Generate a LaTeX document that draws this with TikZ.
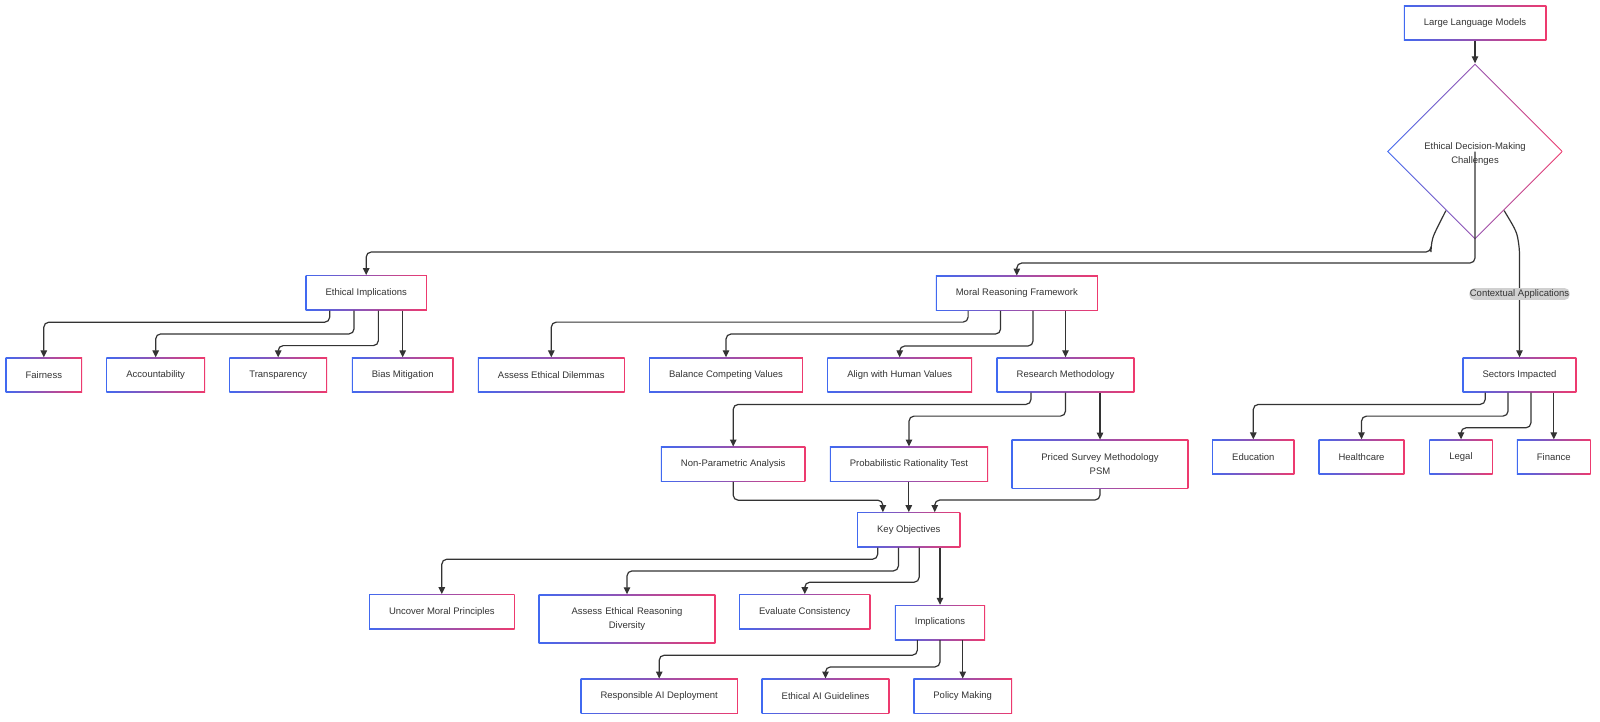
\documentclass[tikz,border=0pt]{standalone}
\usepackage{fontspec}
\setmainfont{Liberation Sans}
\usetikzlibrary{arrows.meta,shapes.geometric,calc}
\definecolor{Blue}{HTML}{4169F0}
\definecolor{Pink}{HTML}{EE3A6E}
\definecolor{Ink}{HTML}{333333}
\definecolor{Tag}{HTML}{D0D0D0}

\begin{document}
\begin{tikzpicture}[
    x=1pt, y=-1pt,
    box/.style={rectangle, inner xsep=20pt, inner ysep=0pt, minimum height=35pt,
      align=center, font=\fontsize{9.5}{14}\selectfont, text=Ink,
      path picture={\shade[left color=Blue,right color=Pink]
          (path picture bounding box.south west) rectangle (path picture bounding box.north east);
        \fill[white] ([shift={(1.1pt,1.1pt)}]path picture bounding box.south west)
          rectangle ([shift={(-1.1pt,-1.1pt)}]path picture bounding box.north east);}},
    wide/.style={box, text width=136.6pt, minimum height=49pt},
    dia/.style={diamond, aspect=1, minimum width=176pt, minimum height=176pt, inner sep=0pt,
      path picture={\shade[left color=Blue,right color=Pink]
          (path picture bounding box.south west) rectangle (path picture bounding box.north east);
        \fill[white] ([yshift=-1.6pt]path picture bounding box.north)
          -- ([xshift=-1.6pt]path picture bounding box.east)
          -- ([yshift=1.6pt]path picture bounding box.south)
          -- ([xshift=1.6pt]path picture bounding box.west) -- cycle;}},
    tag/.style={fill=Tag, inner xsep=0.5pt, inner ysep=1.5pt, text=Ink,
      font=\fontsize{9.5}{11}\selectfont},
    arr/.style={-{Triangle[length=7pt,width=6.5pt]}, Ink, line width=1.2pt, rounded corners=5pt}
  ]
    \fill[white] (0,0) rectangle (1600,721);
    \useasboundingbox (0,0) rectangle (1600,721);

    % top
    \node[box] (llm) at (1475,23) {Large Language Models};
    \node[dia] (ethic) at (1475,151.5) {};
    \node[align=center, text=Ink, font=\fontsize{9.5}{14}\selectfont] (ethictxt) at (1475,154)
      {Ethical Decision-Making\\Challenges};

    % second level
    \node[box] (ethimp) at (366.2,292.8) {Ethical Implications};
    \node[box] (moral) at (1016.8,293.2) {Moral Reasoning Framework};

    % third level
    \node[box] (fair) at (43.8,375) {Fairness};
    \node[box] (acc) at (155.7,375) {Accountability};
    \node[box] (transp) at (278.2,375) {Transparency};
    \node[box] (bias) at (402.7,375) {Bias Mitigation};
    \node[box] (dilem) at (551.3,375) {Assess Ethical Dilemmas};
    \node[box] (balance) at (726,375) {Balance Competing Values};
    \node[box] (align) at (899.7,375) {Align with Human Values};
    \node[box] (research) at (1065.5,375) {Research Methodology};
    \node[box] (sectors) at (1519.5,375) {Sectors Impacted};

    % methods and sectors
    \node[box] (nonpar) at (733.2,464.2) {Non-Parametric Analysis};
    \node[box] (prob) at (909,464.2) {Probabilistic Rationality Test};
    \node[wide] (psm) at (1100,464.3) {Priced Survey Methodology\\PSM};
    \node[box] (educ) at (1253.3,457) {Education};
    \node[box] (health) at (1361.5,457) {Healthcare};
    \node[box] (legal) at (1461,457) {Legal};
    \node[box] (finance) at (1553.8,457) {Finance};

    % objectives
    \node[box] (keyobj) at (908.8,529.8) {Key Objectives};
    \node[box] (uncover) at (441.8,611.8) {Uncover Moral Principles};
    \node[wide] (divers) at (627,619) {Assess Ethical Reasoning\\Diversity};
    \node[box] (evalc) at (804.8,611.8) {Evaluate Consistency};
    \node[box] (impl) at (940,622.5) {Implications};
    \node[box] (resp) at (659.2,696.2) {Responsible AI Deployment};
    \node[box] (guide) at (825.5,696.2) {Ethical AI Guidelines};
    \node[box] (policy) at (962.7,696.2) {Policy Making};

    % connectors
    \draw[arr] (llm.south) -- (ethic.north);
    \draw[arr] ($(ethic.south)!.33!(ethic.west)$) .. controls (1433,236) .. (1431,247)
      -- (1431,252) -| (ethimp.north);
    \draw[arr] (ethic.center) -- ++(0,111.5) -| (moral.north);
    \draw[arr] ($(ethic.south)!.33!(ethic.east)$) .. controls (1517,232) .. (1519.5,250)
      -- node[tag,pos=.41] (ctx) {Contextual Applications} (sectors.north);

    \draw[arr] ($(ethimp.south west)!.2!(ethimp.south east)$) -- ++(0,11.7) -| (fair.north);
    \draw[arr] ($(ethimp.south west)!.4!(ethimp.south east)$) -- ++(0,23.4) -| (acc.north);
    \draw[arr] ($(ethimp.south west)!.6!(ethimp.south east)$) -- ++(0,35.1) -| (transp.north);
    \draw[arr] (bias.north |- ethimp.south) -- (bias.north);

    \draw[arr] ($(moral.south west)!.2!(moral.south east)$) -- ++(0,11.2) -| (dilem.north);
    \draw[arr] ($(moral.south west)!.4!(moral.south east)$) -- ++(0,23.1) -| (balance.north);
    \draw[arr] ($(moral.south west)!.6!(moral.south east)$) -- ++(0,35.1) -| (align.north);
    \draw[arr] (research.north |- moral.south) -- (research.north);

    \draw[arr] ($(research.south west)!.25!(research.south east)$) -- ++(0,11.7) -| (nonpar.north);
    \draw[arr] ($(research.south west)!.5!(research.south east)$) -- ++(0,23.4) -| (prob.north);
    \draw[arr] (psm.north |- research.south) -- (psm.north);

    \draw[arr] ($(sectors.south west)!.2!(sectors.south east)$) -- ++(0,11.7) -| (educ.north);
    \draw[arr] ($(sectors.south west)!.4!(sectors.south east)$) -- ++(0,23.4) -| (health.north);
    \draw[arr] ($(sectors.south west)!.6!(sectors.south east)$) -- ++(0,35.1) -| (legal.north);
    \draw[arr] (finance.north |- sectors.south) -- (finance.north);

    \draw[arr] (nonpar.south) -- ++(0,18.3) -| ($(keyobj.north west)!.25!(keyobj.north east)$);
    \draw[arr] (keyobj.north |- prob.south) -- (keyobj.north);
    \draw[arr] (psm.south) -- ++(0,11) -| ($(keyobj.north west)!.75!(keyobj.north east)$);

    \draw[arr] ($(keyobj.south west)!.2!(keyobj.south east)$) -- ++(0,11.7) -| (uncover.north);
    \draw[arr] ($(keyobj.south west)!.4!(keyobj.south east)$) -- ++(0,23.4) -| (divers.north);
    \draw[arr] ($(keyobj.south west)!.6!(keyobj.south east)$) -- ++(0,34.7) -| (evalc.north);
    \draw[arr] (impl.north |- keyobj.south) -- (impl.north);

    \draw[arr] ($(impl.south west)!.25!(impl.south east)$) -- ++(0,15) -| (resp.north);
    \draw[arr] ($(impl.south west)!.5!(impl.south east)$) -- ++(0,26.7) -| (guide.north);
    \draw[arr] (policy.north |- impl.south) -- (policy.north);
  \end{tikzpicture}
\end{document}
